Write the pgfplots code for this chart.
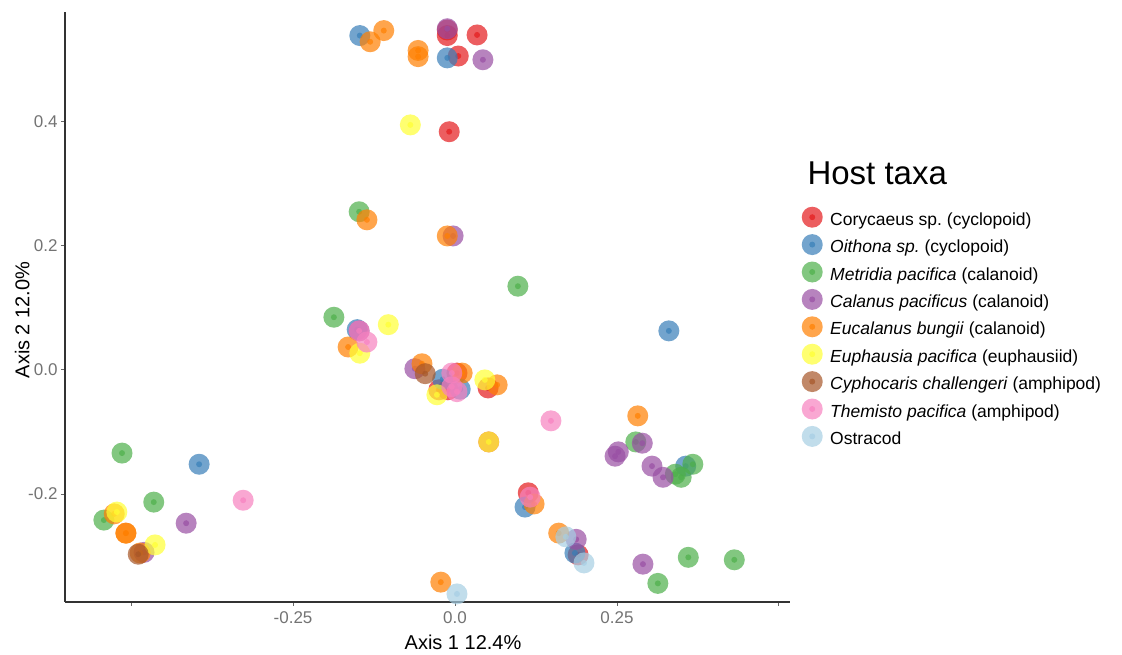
\documentclass[border=0pt]{standalone}
\usepackage{fontspec}
\setmainfont{Liberation Sans}
\usepackage{pgfplots}
\usepackage{pgfplotstable}
\pgfplotsset{compat=1.18}
\frenchspacing
\definecolor{cRed}{HTML}{E41A1C}
\definecolor{cBlue}{HTML}{377EB8}
\definecolor{cGreen}{HTML}{4DAF4A}
\definecolor{cPurple}{HTML}{984EA3}
\definecolor{cOrange}{HTML}{FF7F00}
\definecolor{cYellow}{HTML}{FFFF33}
\definecolor{cBrown}{HTML}{A65628}
\definecolor{cPink}{HTML}{F781BF}
\definecolor{cLB}{HTML}{A6CEE3}

\pgfplotstableread{
x y
-0.012 0.548
-0.012 0.539
0.034 0.540
0.005 0.506
-0.009 0.384
0.003 -0.005
-0.025 -0.032
-0.011 -0.032
0.051 -0.029
0.052 -0.116
0.113 -0.198
0.190 -0.298
}\tRed
\pgfplotstableread{
x y
-0.147 0.539
-0.012 0.503
-0.151 0.065
-0.019 -0.015
0.008 -0.031
0.330 0.063
0.356 -0.155
0.108 -0.221
0.185 -0.295
-0.395 -0.152
}\tBlue
\pgfplotstableread{
x y
-0.148 0.255
0.097 0.135
-0.187 0.085
-0.514 -0.134
-0.465 -0.213
-0.542 -0.242
0.279 -0.116
0.340 -0.168
0.349 -0.173
0.367 -0.152
0.360 -0.302
0.431 -0.306
0.313 -0.344
}\tGreen
\pgfplotstableread{
x y
-0.012 0.550
0.043 0.500
-0.003 0.216
-0.148 0.063
-0.062 0.002
0.289 -0.118
0.252 -0.132
0.247 -0.139
0.304 -0.155
0.321 -0.173
0.187 -0.273
0.290 -0.313
-0.415 -0.247
-0.480 -0.294
}\tPurple
\pgfplotstableread{
x y
-0.110 0.547
-0.131 0.529
-0.057 0.515
-0.057 0.505
-0.136 0.242
-0.012 0.216
-0.165 0.037
-0.051 0.010
0.011 -0.005
0.065 -0.024
0.282 -0.074
0.122 -0.216
0.160 -0.263
-0.022 -0.342
-0.526 -0.232
-0.508 -0.263
-0.508 -0.263
-0.486 -0.295
}\tOrange
\pgfplotstableread{
x y
-0.069 0.395
-0.103 0.073
-0.147 0.027
-0.028 -0.040
0.046 -0.016
0.052 -0.116
-0.522 -0.229
-0.463 -0.282
}\tYellow
\pgfplotstableread{
x y
-0.046 -0.006
-0.489 -0.297
}\tBrown
\pgfplotstableread{
x y
-0.148 0.063
-0.136 0.045
-0.005 -0.005
-0.005 -0.027
0.003 -0.035
0.148 -0.082
-0.327 -0.210
0.116 -0.205
}\tPink
\pgfplotstableread{
x y
0.003 -0.361
0.171 -0.269
0.199 -0.311
}\tLB

\pgfplotsset{
  big/.style={only marks, mark=*, mark size=10.5pt, color=#1,
    mark options={fill=#1, draw opacity=0, fill opacity=0.7}, forget plot},
  small/.style={only marks, mark=*, mark size=3pt, color=#1,
    mark options={fill=#1, draw opacity=0, fill opacity=0.7}, forget plot},
  leg/.style={legend image code/.code={%
      \path[draw=none] (0pt,-2pt) rectangle (28pt,2pt);
      \fill[draw=none, #1, fill opacity=0.7, overlay] (10pt,3.5pt) circle (10.5pt);
      \fill[draw=none, #1, fill opacity=0.7, overlay] (10pt,3.5pt) circle (3pt);}},
}
\newcommand{\series}[2]{%
  \addplot[big=#2] table {#1};
  \addplot[small=#2] table {#1};
}

\begin{document}
\begin{tikzpicture}
\path[use as bounding box] (0,0) rectangle (1122pt,655pt);
\begin{axis}[
  at={(65pt,53pt)}, anchor=south west,
  width=725pt, height=590pt, scale only axis,
  xmin=-0.602, xmax=0.517, ymin=-0.374, ymax=0.577,
  axis lines*=left,
  axis line style={black!80, line width=1.2pt, -},
  xtick={-0.5,-0.25,0,0.25,0.5}, xticklabels={,-0.25,0.0,0.25,},
  ytick={-0.2,0,0.2,0.4}, yticklabels={-0.2,0.0,0.2,0.4},
  tick align=outside, major tick length=4pt,
  tick style={black!60, line width=1pt},
  ticklabel style={font=\fontsize{17}{19}\selectfont, text=black!55},
  xticklabel style={yshift=-2pt},
  xlabel={Axis 1 12.4\%}, ylabel={Axis 2 12.0\%},
  label style={font=\fontsize{20}{23}\selectfont, text=black},
  x label style={at={(axis description cs:0.549,-0.068)}, anchor=center},
  y label style={at={(axis description cs:-0.059,0.478)}, anchor=center},
  clip=false,
  legend cell align=left,
  legend style={at={(axis description cs:1.0166,0.661)}, anchor=north west,
    draw=none, fill=none, inner sep=0pt, row sep=10.4pt,
    font=\fontsize{17.5}{20}\selectfont,
    nodes={inner sep=0pt, text height=13pt, text depth=4pt}},
]
\series{\tRed}{cRed}
\series{\tBlue}{cBlue}
\series{\tGreen}{cGreen}
\series{\tPurple}{cPurple}
\series{\tOrange}{cOrange}
\series{\tYellow}{cYellow}
\series{\tBrown}{cBrown}
\series{\tPink}{cPink}
\series{\tLB}{cLB}
\addlegendimage{leg=cRed}\addlegendentry{Corycaeus sp.\ (cyclopoid)}
\addlegendimage{leg=cBlue}\addlegendentry{\textit{Oithona sp.}\ (cyclopoid)}
\addlegendimage{leg=cGreen}\addlegendentry{\textit{Metridia pacifica} (calanoid)}
\addlegendimage{leg=cPurple}\addlegendentry{\textit{Calanus pacificus} (calanoid)}
\addlegendimage{leg=cOrange}\addlegendentry{\textit{Eucalanus bungii} (calanoid)}
\addlegendimage{leg=cYellow}\addlegendentry{\textit{Euphausia pacifica} (euphausiid)}
\addlegendimage{leg=cBrown}\addlegendentry{\textit{Cyphocaris challengeri} (amphipod)}
\addlegendimage{leg=cPink}\addlegendentry{\textit{Themisto pacifica} (amphipod)}
\addlegendimage{leg=cLB}\addlegendentry{Ostracod}
\end{axis}
\node[anchor=base west, font=\fontsize{33}{38}\selectfont] at (804pt,470pt) {Host taxa};
\end{tikzpicture}
\end{document}
